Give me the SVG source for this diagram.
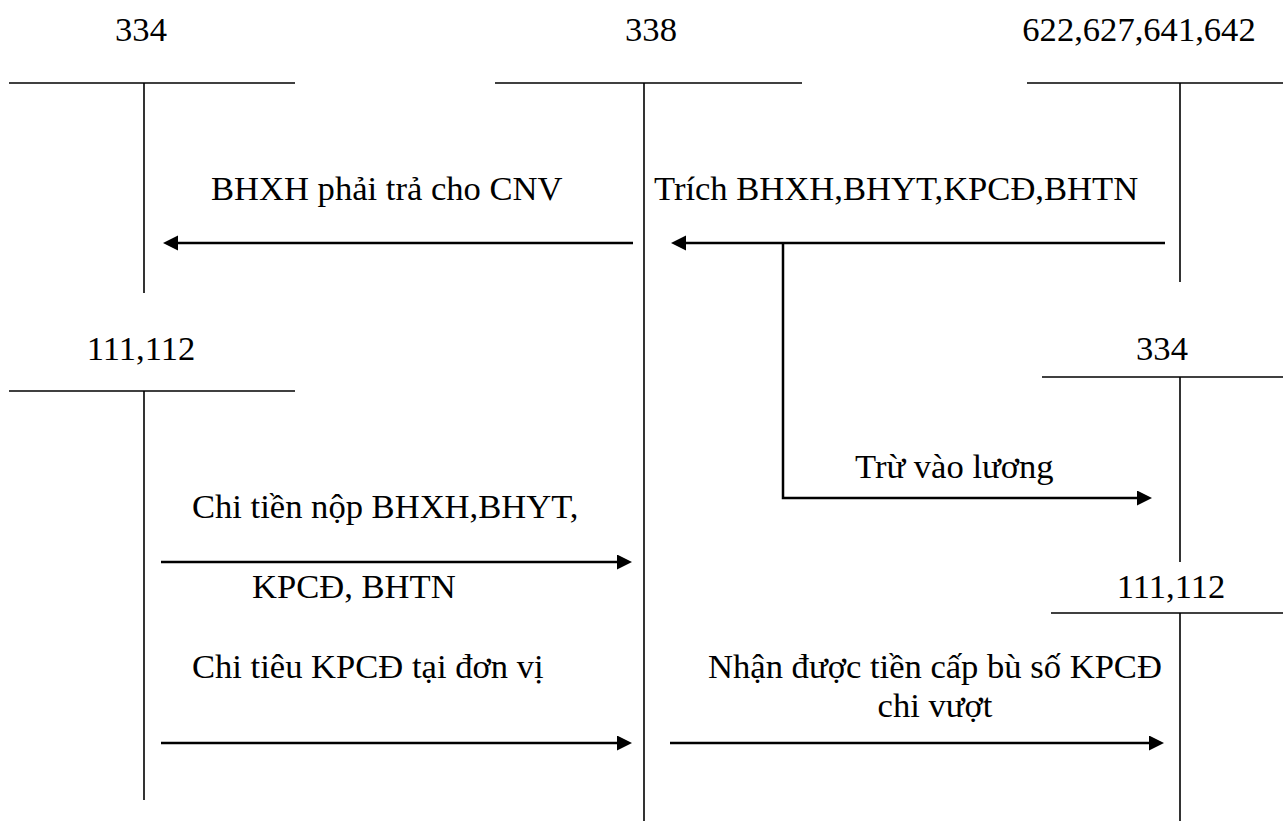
<svg xmlns="http://www.w3.org/2000/svg" width="1283" height="821" viewBox="0 0 1283 821">
  <style>
    .t { font-family: "Liberation Serif", "Times New Roman", serif; font-size: 34.6px; fill: #000; }
    .mid { text-anchor: middle; }
    .acct { stroke: #000; stroke-width: 1.6; fill: none; }
    .flow { stroke: #000; stroke-width: 2.5; fill: none; marker-end: url(#head); }
  </style>
  <defs>
    <marker id="head" markerUnits="userSpaceOnUse" markerWidth="16" markerHeight="16" refX="5" refY="7.5" orient="auto">
      <path d="M0,0 L15,7.5 L0,15 Z" fill="#000"/>
    </marker>
  </defs>
  <rect width="1283" height="821" fill="#fff"/>

  <!-- T-accounts -->
  <g id="acc-334-top">
    <text class="t mid" x="141" y="41">334</text>
    <line class="acct" x1="9" y1="83" x2="295" y2="83"/>
    <line class="acct" x1="144" y1="83" x2="144" y2="293"/>
  </g>
  <g id="acc-338">
    <text class="t mid" x="651" y="41">338</text>
    <line class="acct" x1="495" y1="83" x2="802" y2="83"/>
    <line class="acct" x1="644" y1="83" x2="644" y2="821"/>
  </g>
  <g id="acc-622">
    <text class="t mid" x="1139" y="41">622,627,641,642</text>
    <line class="acct" x1="1027" y1="83" x2="1283" y2="83"/>
    <line class="acct" x1="1180" y1="83" x2="1180" y2="282"/>
  </g>
  <g id="acc-111-left">
    <text class="t mid" x="141" y="360">111,112</text>
    <line class="acct" x1="9" y1="391" x2="295" y2="391"/>
    <line class="acct" x1="144" y1="391" x2="144" y2="800"/>
  </g>
  <g id="acc-334-right">
    <text class="t mid" x="1162" y="360">334</text>
    <line class="acct" x1="1042" y1="377" x2="1283" y2="377"/>
    <line class="acct" x1="1180" y1="377" x2="1180" y2="562"/>
  </g>
  <g id="acc-111-right">
    <text class="t mid" x="1171" y="598">111,112</text>
    <line class="acct" x1="1051" y1="613" x2="1283" y2="613"/>
    <line class="acct" x1="1180" y1="613" x2="1180" y2="821"/>
  </g>

  <!-- Entries -->
  <g id="connectors">
    <line class="flow" x1="633" y1="243" x2="173" y2="243"/>
    <line class="flow" x1="1165" y1="243" x2="681" y2="243"/>
    <path class="flow" d="M783,243 V498 H1142"/>
    <line class="flow" x1="161" y1="562" x2="622" y2="562"/>
    <line class="flow" x1="161" y1="743" x2="622" y2="743"/>
    <line class="flow" x1="670" y1="743" x2="1154" y2="743"/>
  </g>

  <g id="labels">
    <text class="t" x="211" y="200">BHXH phải trả cho CNV</text>
    <text class="t" x="654" y="200">Trích BHXH,BHYT,KPCĐ,BHTN</text>
    <text class="t" x="855" y="478">Trừ vào lương</text>
    <text class="t" x="192" y="518">Chi tiền nộp BHXH,BHYT,</text>
    <text class="t" x="252" y="598">KPCĐ, BHTN</text>
    <text class="t" x="192" y="678">Chi tiêu KPCĐ tại đơn vị</text>
    <text class="t mid" x="935" y="678">Nhận được tiền cấp bù số KPCĐ</text>
    <text class="t mid" x="935" y="717">chi vượt</text>
  </g>
</svg>
